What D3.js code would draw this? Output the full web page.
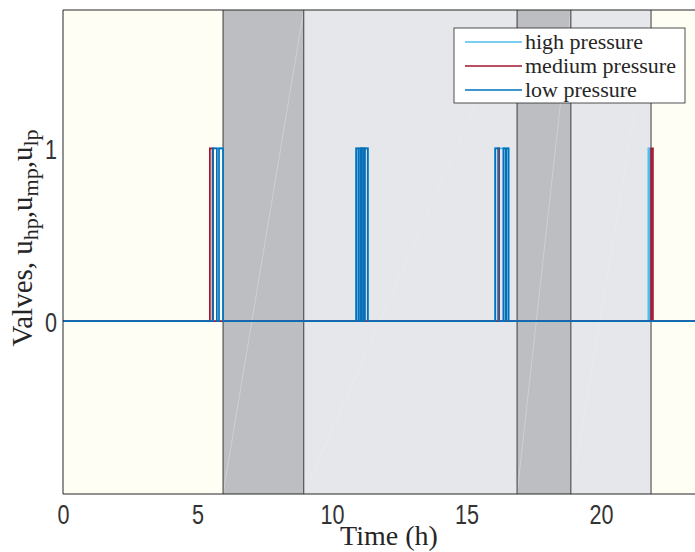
<!DOCTYPE html>
<html>
<head>
<meta charset="utf-8">
<script src="https://cdn.jsdelivr.net/npm/d3@7"></script>
<style>
html,body{margin:0;padding:0;background:#fff;}
svg{display:block;}
</style>
</head>
<body>
<svg id="chart" width="695" height="552"></svg>
<script>
// ---- data ----
const regionStarts = [0, 5.95, 8.95, 16.88, 18.88, 21.86];
const regionEnds   = [5.95, 8.95, 16.88, 18.88, 21.86, 24];
const regionKinds  = ["off", "peak", "mid", "peak", "mid", "off"];

const xTicks = [0, 5, 10, 15, 20];
const yTicks = [0, 1];

// intervals (h) during which each valve is open (value 1)
const highOn   = [[5.57, 5.95], [10.89, 11.34], [16.06, 16.57], [21.76, 21.82]];
const mediumOn = [[5.46, 5.56], [11.08, 11.10], [11.19, 11.21], [16.19, 16.21], [21.86, 21.93]];
const lowOn    = [[5.58, 5.72], [5.80, 5.95], [10.90, 10.98], [11.00, 11.07], [11.11, 11.18],
                  [11.22, 11.33], [16.07, 16.18], [16.37, 16.45], [16.48, 16.56]];

const seriesNames = ["high pressure", "medium pressure", "low pressure"];
const seriesData = [highOn, mediumOn, lowOn];
const seriesColors = ["#4dbeee", "#a2142f", "#0072bd"];

// ---- layout ----
const svg = d3.select("#chart");
const x = d3.scaleLinear().domain([0, 24]).range([63, 63 + 24 * 26.9]);
const y = d3.scaleLinear().domain([-1, 1.8]).range([494, 10]);
const regionColor = {off: "#fefef4", peak: "#bdbec2", mid: "#e6e7ea"};
const textCol = "#262626";

// background regions
const regions = regionStarts.map((s, i) => ({s, e: regionEnds[i], k: regionKinds[i]}));
svg.append("g").selectAll("rect").data(regions).join("rect")
  .attr("x", d => x(d.s)).attr("y", y(1.8))
  .attr("width", d => x(d.e) - x(d.s)).attr("height", y(-1) - y(1.8))
  .attr("fill", d => regionColor[d.k]);

// faint triangulation diagonals in shaded regions
svg.append("g").selectAll("line").data(regions.filter(d => d.k !== "off")).join("line")
  .attr("x1", d => x(d.s)).attr("y1", y(-1))
  .attr("x2", d => x(d.e)).attr("y2", y(1.8))
  .attr("stroke", "#ffffff")
  .attr("stroke-opacity", d => d.k === "peak" ? 0.35 : 0.2)
  .attr("stroke-width", 0.8);

// region boundary lines
svg.append("g").selectAll("line").data(regionStarts.slice(1)).join("line")
  .attr("x1", d => x(d)).attr("x2", d => x(d))
  .attr("y1", y(1.8)).attr("y2", y(-1))
  .attr("stroke", "#3a3a3a").attr("stroke-width", 1);

// series (step functions)
function toSteps(intervals) {
  const pts = [[0, 0]];
  intervals.forEach(([a, b]) => { pts.push([a, 1]); pts.push([b, 0]); });
  pts.push([24, 0]);
  return pts;
}
const line = d3.line().x(d => x(d[0])).y(d => y(d[1])).curve(d3.curveStepAfter);
seriesData.forEach((iv, i) => {
  svg.append("path").datum(toSteps(iv))
    .attr("d", line).attr("fill", "none")
    .attr("stroke", seriesColors[i]).attr("stroke-width", 1.7);
});

// frame (left, top, bottom)
const frame = svg.append("g").attr("stroke", textCol).attr("stroke-width", 1);
frame.append("line").attr("x1", x(0)).attr("x2", x(0)).attr("y1", y(1.8)).attr("y2", y(-1));
frame.append("line").attr("x1", x(0)).attr("x2", x(24)).attr("y1", y(1.8)).attr("y2", y(1.8));
frame.append("line").attr("x1", x(0)).attr("x2", x(24)).attr("y1", y(-1)).attr("y2", y(-1));

// tick labels
const xAxis = d3.axisBottom(x).tickValues(xTicks).tickSize(0).tickPadding(0).tickFormat(d3.format("d"));
const gx = svg.append("g").attr("transform", `translate(0,${y(-1)})`).call(xAxis);
gx.select(".domain").remove();
gx.selectAll("text")
  .attr("y", 0).attr("dy", null).attr("x", 0)
  .attr("transform", "translate(0,30) scale(0.8,1)")
  .attr("font-family", "'Liberation Sans', Arial, sans-serif").attr("font-size", 27)
  .attr("fill", "#333333").attr("text-anchor", "middle");

const yAxis = d3.axisLeft(y).tickValues(yTicks).tickSize(0).tickPadding(0).tickFormat(d3.format("d"));
const gy = svg.append("g").attr("transform", `translate(${x(0)},0)`).call(yAxis);
gy.select(".domain").remove();
gy.selectAll("text")
  .attr("x", 0).attr("dy", null)
  .attr("transform", "translate(-6,10) scale(0.8,1)")
  .attr("font-family", "'Liberation Sans', Arial, sans-serif").attr("font-size", 27)
  .attr("fill", "#333333").attr("text-anchor", "end");

// axis titles
svg.append("text")
  .attr("x", 389).attr("y", 545)
  .attr("text-anchor", "middle")
  .attr("font-family", "'Liberation Serif', 'Times New Roman', serif").attr("font-size", 28)
  .attr("fill", textCol).text("Time (h)");

const yl = svg.append("text")
  .attr("transform", "translate(32,238) rotate(-90)")
  .attr("text-anchor", "middle")
  .attr("font-family", "'Liberation Serif', 'Times New Roman', serif").attr("font-size", 29)
  .attr("fill", textCol);
yl.append("tspan").text("Valves, u");
yl.append("tspan").attr("font-size", 22).attr("dy", 6).text("hp");
yl.append("tspan").attr("dy", -6).text(",u");
yl.append("tspan").attr("font-size", 22).attr("dy", 6).text("mp");
yl.append("tspan").attr("dy", -6).text(",u");
yl.append("tspan").attr("font-size", 22).attr("dy", 6).text("lp");

// legend
const lg = svg.append("g");
lg.append("rect").attr("x", 454).attr("y", 28).attr("width", 231).attr("height", 75)
  .attr("fill", "#ffffff").attr("stroke", textCol).attr("stroke-width", 0.8);
seriesNames.forEach((name, i) => {
  const ly = 42 + i * 24;
  lg.append("line").attr("x1", 465).attr("x2", 522).attr("y1", ly).attr("y2", ly)
    .attr("stroke", seriesColors[i]).attr("stroke-width", 1.7);
  lg.append("text").attr("x", 525).attr("y", ly + 7)
    .attr("font-family", "'Liberation Serif', 'Times New Roman', serif").attr("font-size", 22)
    .attr("fill", textCol).text(name);
});
</script>
</body>
</html>
